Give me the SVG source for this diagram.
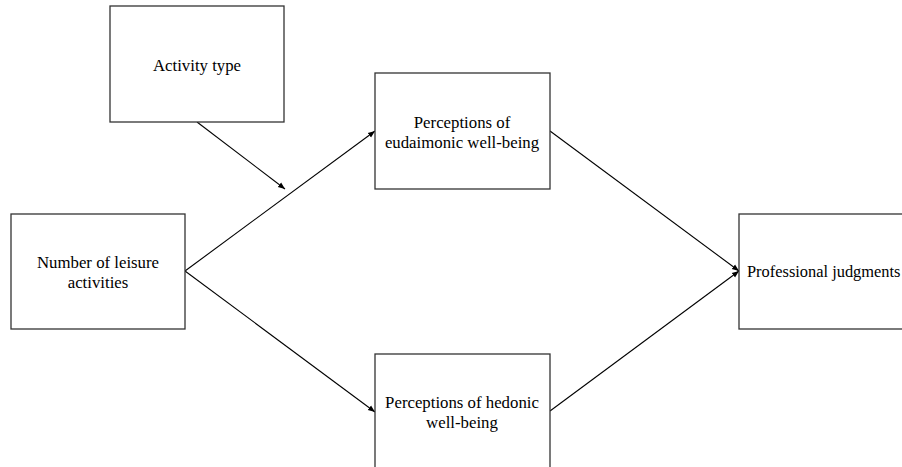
<svg xmlns="http://www.w3.org/2000/svg" width="902" height="467" viewBox="0 0 902 467">
<defs>
<marker id="ah" viewBox="0 0 10 10" refX="10" refY="5" markerWidth="7" markerHeight="7" orient="auto" markerUnits="userSpaceOnUse">
<path d="M0,1 L10,5 L0,9 Z" fill="#000"/>
</marker>
<style>
.box{fill:#fff;stroke:#333;stroke-width:1.3}
.lbl{font-family:"Liberation Serif","Times New Roman",serif;font-size:16.8px;fill:#000;text-anchor:middle}
.edge{stroke:#000;stroke-width:1.1;fill:none;marker-end:url(#ah)}
</style>
</defs>
<rect width="902" height="467" fill="#fff"/>
<g id="connectors">
<line class="edge" x1="197" y1="122" x2="285" y2="189"/>
<line class="edge" x1="185" y1="271" x2="375" y2="131"/>
<line class="edge" x1="185" y1="271" x2="375" y2="412"/>
<line class="edge" x1="550" y1="131" x2="739" y2="271"/>
<line class="edge" x1="550" y1="411" x2="739" y2="271"/>
</g>
<g id="activity-type">
<rect class="box" x="110" y="6" width="174" height="116"/>
<text class="lbl" x="197" y="71">Activity type</text>
</g>
<g id="number-leisure">
<rect class="box" x="11" y="214" width="174" height="115"/>
<text class="lbl" x="98" y="268">Number of leisure</text>
<text class="lbl" x="98" y="288">activities</text>
</g>
<g id="eudaimonic">
<rect class="box" x="375" y="73" width="175" height="116"/>
<text class="lbl" x="462" y="128">Perceptions of</text>
<text class="lbl" x="462" y="148">eudaimonic well-being</text>
</g>
<g id="hedonic">
<rect class="box" x="375" y="354" width="175" height="120"/>
<text class="lbl" x="462" y="408">Perceptions of hedonic</text>
<text class="lbl" x="462" y="428">well-being</text>
</g>
<g id="professional">
<rect class="box" x="739" y="214" width="175" height="115"/>
<text class="lbl" x="747" y="277" style="text-anchor:start;font-size:16.4px">Professional judgments</text>
</g>
</svg>
